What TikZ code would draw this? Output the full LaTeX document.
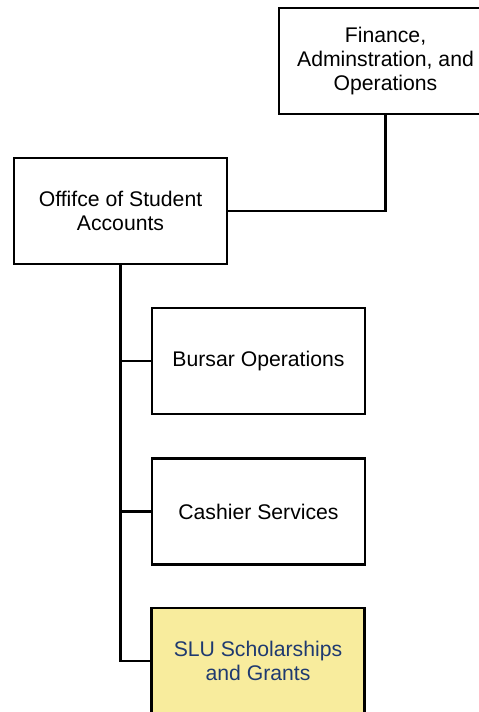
\documentclass[tikz,border=0pt]{standalone}
\usepackage{fontspec}
\setmainfont{Liberation Sans}
\definecolor{slufill}{HTML}{F8EC9D}
\definecolor{slutext}{HTML}{1F3A70}
\begin{document}
\begin{tikzpicture}[x=1pt,y=-1pt,
  orgbox/.style={draw=black,line width=2.2pt,fill=white,rectangle,minimum width=213pt,minimum height=106pt,align=center,inner sep=2pt,font=\fontsize{21.2}{24}\selectfont},
  link/.style={draw=black,line width=2.4pt}]
\useasboundingbox (0,0) rectangle (479,712);
\clip (0,0) rectangle (479,712);
\node[orgbox] (fin) at (385.5,61) {Finance,\\Adminstration, and\\Operations};
\node[orgbox] (osa) at (120.5,211) {Offifce of Student\\Accounts};
\node[orgbox] (bur) at (258.5,361) {Bursar Operations};
\node[orgbox] (cas) at (258.5,511.5) {Cashier Services};
\node[orgbox,fill=slufill,text=slutext] (slu) at (258,661) {SLU Scholarships\\and Grants};
\coordinate (t1) at (osa.south |- bur.west);
\coordinate (t2) at (osa.south |- cas.west);
\coordinate (t3) at (osa.south |- slu.west);
\draw[link] (osa.east) -| (fin.south);
\draw[link,line join=miter] (osa.south) -- (t3) -- (slu.west);
\draw[link] (t1) -- (bur.west);
\draw[link] (t2) -- (cas.west);
\end{tikzpicture}
\end{document}
